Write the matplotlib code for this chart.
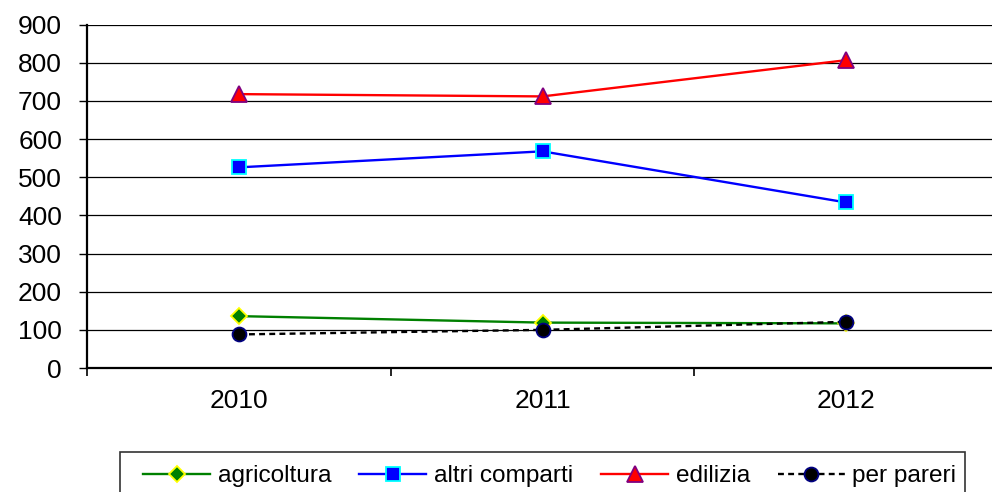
import matplotlib
matplotlib.use("Agg")
import matplotlib.pyplot as plt
from matplotlib.ticker import FixedLocator, NullFormatter, FixedFormatter
from matplotlib.patches import Rectangle

plt.rcParams['font.family'] = ['Liberation Sans', 'DejaVu Sans']

years = ["2010", "2011", "2012"]
agricoltura = [136, 119, 117]
altri_comparti = [526, 568, 434]
edilizia = [718, 712, 807]
per_pareri = [88, 100, 121]
y_ticks = [0, 100, 200, 300, 400, 500, 600, 700, 800, 900]

fig = plt.figure(figsize=(9.92, 4.92), dpi=100)
ax = fig.add_axes([87/992, (492-368)/492, (998-87)/992, (368-24.7)/492])

x = list(range(1, len(years) + 1))
ax.plot(x, agricoltura, color='green', lw=1.7, marker='D', markersize=8,
        markerfacecolor='green', markeredgecolor='yellow', markeredgewidth=1.3,
        label='agricoltura', zorder=3)
ax.plot(x, altri_comparti, color='blue', lw=1.7, marker='s', markersize=10,
        markerfacecolor='blue', markeredgecolor='cyan', markeredgewidth=1.3,
        label='altri comparti', zorder=3)
ax.plot(x, edilizia, color='red', lw=1.7, marker='^', markersize=12,
        markerfacecolor='red', markeredgecolor='purple', markeredgewidth=1.3,
        label='edilizia', zorder=3)
ax.plot(x, per_pareri, color='black', lw=1.7, linestyle=(0, (2.5, 1.8)),
        marker='o', markersize=10, markerfacecolor='black',
        markeredgecolor='navy', markeredgewidth=1.3,
        label='per pareri', zorder=4)

ax.set_xlim(0.5, len(years) + 0.5)
ax.set_ylim(0, 900)
ax.set_yticks(y_ticks)
ax.set_yticklabels([str(v) for v in y_ticks])
ax.yaxis.grid(True, color='black', lw=0.9)
ax.set_axisbelow(True)

ax.xaxis.set_major_locator(FixedLocator([i + 0.5 for i in range(len(years) + 1)]))
ax.xaxis.set_major_formatter(NullFormatter())
ax.xaxis.set_minor_locator(FixedLocator(x))
ax.xaxis.set_minor_formatter(FixedFormatter(years))
ax.tick_params(axis='x', which='major', length=6, width=1.2, direction='out')
ax.tick_params(axis='x', which='minor', length=0, pad=15, labelsize=19)
ax.tick_params(axis='y', length=6, width=1, direction='out', pad=12, labelsize=19)

for s in ['top', 'right']:
    ax.spines[s].set_visible(False)
for s in ['left', 'bottom']:
    ax.spines[s].set_linewidth(1.6)
    ax.spines[s].set_color('black')

leg = fig.legend(loc='center left', bbox_to_anchor=(143/992, 1 - 476/492),
                 ncol=4, fontsize=17.6, frameon=False,
                 handlelength=2.75, handletextpad=0.3,
                 columnspacing=1.15, borderaxespad=0, borderpad=0)
fig.add_artist(Rectangle((120/992, -0.05), (965-120)/992, 0.05 + (492-452)/492,
                         transform=fig.transFigure, fill=False,
                         edgecolor='#333333', lw=1.2))

fig.savefig("out.png", dpi=100)
